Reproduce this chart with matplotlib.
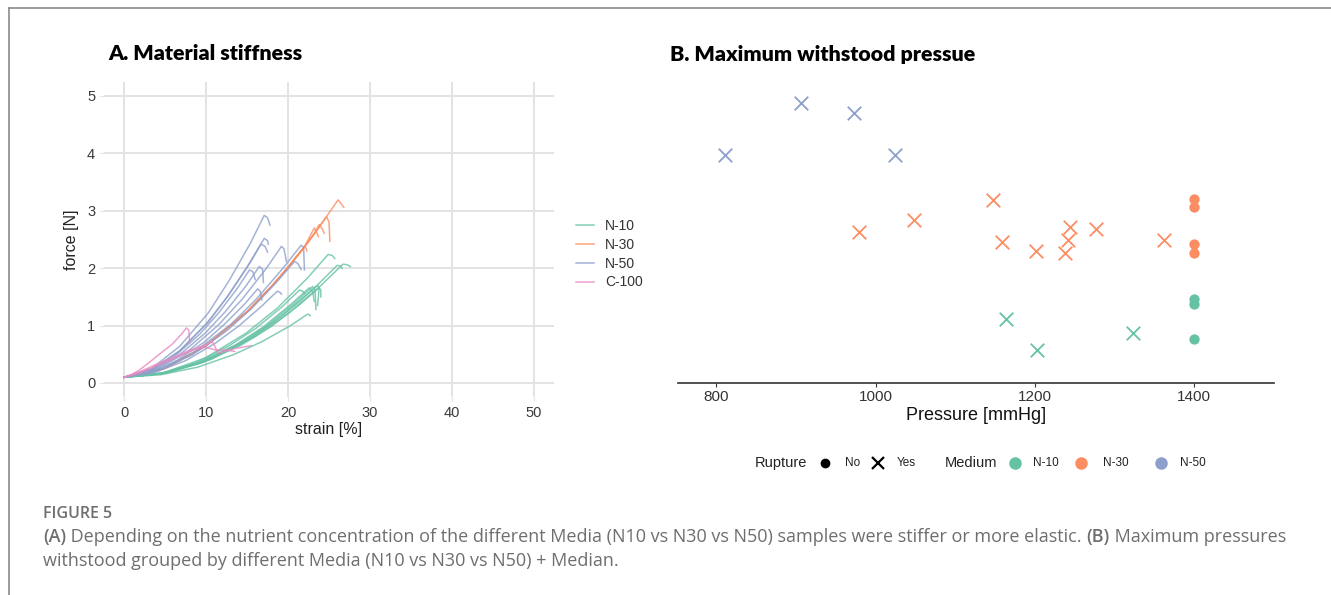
import matplotlib
matplotlib.use("Agg")
import matplotlib.pyplot as plt
from matplotlib.lines import Line2D

# ---- data ----
# panel A: strain [%] / force [N] per test sample
n10_strain = [
    [0, 5.0, 10.0, 14.9, 18.7, 22.4, 24.9, 25.4, 25.7],
    [0, 5.3, 10.7, 16.0, 20.0, 24.0, 26.7, 27.2, 27.6],
    [0, 5.2, 10.4, 15.6, 19.5, 23.4, 26.0, 26.4, 26.6],
    [0, 4.6, 9.2, 13.8, 17.3, 20.7, 23.0, 23.3, 23.4],
    [0, 4.8, 9.5, 14.3, 17.9, 21.4, 23.8, 24.0, 24.0],
    [0, 4.5, 9.0, 13.6, 17.0, 20.3, 22.6, 23.0, 23.2],
    [0, 4.5, 9.0, 13.4, 16.8, 20.2, 22.4, 22.6, 22.7],
    [0, 4.3, 8.6, 12.8, 16.1, 19.3, 21.4, 21.8, 22.0],
    [0, 4.7, 9.4, 14.2, 17.7, 21.2, 23.6, 23.8, 23.6],
]
n10_force = [
    [0.1, 0.186, 0.442, 0.870, 1.304, 1.833, 2.24, 2.22, 2.17],
    [0.1, 0.179, 0.415, 0.809, 1.208, 1.696, 2.07, 2.06, 2.03],
    [0.1, 0.178, 0.412, 0.802, 1.197, 1.680, 2.05, 2.04, 2.00],
    [0.1, 0.163, 0.353, 0.669, 0.989, 1.380, 1.68, 1.62, 1.28],
    [0.1, 0.162, 0.350, 0.662, 0.978, 1.364, 1.66, 1.62, 1.50],
    [0.1, 0.162, 0.350, 0.662, 0.978, 1.364, 1.66, 1.60, 1.42],
    [0.1, 0.144, 0.276, 0.496, 0.719, 0.991, 1.20, 1.19, 1.17],
    [0.1, 0.161, 0.343, 0.647, 0.955, 1.331, 1.62, 1.60, 1.56],
    [0.1, 0.164, 0.356, 0.676, 1.000, 1.396, 1.70, 1.66, 1.35],
]
n30_strain = [
    [0, 5, 10, 15, 18, 20, 22, 23.2, 23.8, 24.7, 26.1, 26.5, 26.8],
    [0, 5, 10, 15, 18, 20, 22, 23.2, 23.8, 24.7, 25.0, 25.1],
    [0, 5, 10, 15, 18, 20, 22, 23.2, 23.8, 24.2, 24.4],
    [0, 5, 10, 15, 18, 20, 22, 23.2, 23.5, 23.7],
    [0, 5, 10, 15, 18, 20, 22, 22.2, 22.3],
]
n30_force = [
    [0.1, 0.258, 0.649, 1.240, 1.683, 2.014, 2.372, 2.600, 2.717, 2.90, 3.19, 3.12, 3.06],
    [0.1, 0.258, 0.649, 1.240, 1.683, 2.014, 2.372, 2.600, 2.717, 2.90, 2.80, 2.47],
    [0.1, 0.258, 0.649, 1.240, 1.683, 2.014, 2.372, 2.600, 2.760, 2.68, 2.61],
    [0.1, 0.258, 0.649, 1.240, 1.683, 2.014, 2.372, 2.700, 2.62, 2.55],
    [0.1, 0.258, 0.649, 1.240, 1.683, 2.014, 2.372, 2.35, 2.30],
]
n50_strain = [
    [0, 3.4, 6.8, 10.3, 12.8, 15.4, 17.1, 17.5, 17.8],
    [0, 3.4, 6.8, 10.3, 12.8, 15.4, 17.1, 17.5, 17.6],
    [0, 3.3, 6.7, 10.0, 12.5, 15.0, 16.7, 17.2, 17.5],
    [0, 3.8, 7.7, 11.5, 14.4, 17.3, 19.2, 19.5, 19.8],
    [0, 4.3, 8.6, 13.0, 16.2, 19.4, 21.6, 21.9, 22.0],
    [0, 4.2, 8.3, 12.5, 15.6, 18.7, 20.8, 21.2, 21.6],
    [0, 3.3, 6.6, 9.9, 12.4, 14.9, 16.5, 16.9, 17.0],
    [0, 3.1, 6.1, 9.2, 11.5, 13.8, 15.3, 15.7, 16.0],
    [0, 3.3, 6.5, 9.8, 12.2, 14.7, 16.3, 16.6, 16.8],
    [0, 3.7, 7.5, 11.2, 14.0, 16.8, 18.7, 19.0, 19.2],
]
n50_force = [
    [0.1, 0.256, 0.641, 1.225, 1.781, 2.432, 2.92, 2.88, 2.75],
    [0.1, 0.234, 0.565, 1.066, 1.542, 2.101, 2.52, 2.48, 2.42],
    [0.1, 0.228, 0.545, 1.026, 1.483, 2.019, 2.42, 2.38, 2.28],
    [0.1, 0.226, 0.538, 1.010, 1.459, 1.986, 2.38, 2.34, 2.12],
    [0.1, 0.227, 0.542, 1.018, 1.471, 2.002, 2.40, 2.36, 1.97],
    [0.1, 0.212, 0.488, 0.906, 1.304, 1.771, 2.12, 2.08, 1.98],
    [0.1, 0.207, 0.471, 0.870, 1.250, 1.696, 2.03, 1.98, 1.75],
    [0.1, 0.203, 0.459, 0.846, 1.215, 1.646, 1.97, 1.94, 1.80],
    [0.1, 0.185, 0.396, 0.714, 1.018, 1.374, 1.64, 1.60, 1.45],
    [0.1, 0.183, 0.388, 0.699, 0.994, 1.341, 1.60, 1.58, 1.55],
]
c100_strain = [
    [0, 1, 2, 3, 4.3, 5.9, 7.0, 7.6, 7.9, 8.0],
    [0, 2, 4, 6, 8, 9.5, 10.8, 11.2, 11.5, 12.5, 13.5, 15.5],
    [0, 2, 4, 6, 8, 9.5, 10.0, 11.0, 12.5, 13.5],
]
c100_force = [
    [0.1, 0.15, 0.24, 0.35, 0.50, 0.68, 0.85, 0.96, 0.92, 0.70],
    [0.1, 0.20, 0.33, 0.45, 0.57, 0.64, 0.72, 0.60, 0.52, 0.56, 0.60, 0.65],
    [0.1, 0.18, 0.30, 0.42, 0.55, 0.62, 0.62, 0.58, 0.57, 0.55],
]

# panel B: maximum withstood pressure [mmHg], vertical position, rupture
n10_pressure = [1164, 1202, 1323, 1400, 1400, 1400]
n10_y = [1.14, 0.59, 0.90, 1.50, 1.40, 0.78]
n10_rupture = [True, True, True, False, False, False]
n30_pressure = [979, 1048, 1147, 1159, 1201, 1238, 1242, 1244, 1276, 1362,
                1400, 1400, 1400, 1400]
n30_y = [2.69, 2.91, 3.26, 2.52, 2.35, 2.32, 2.55, 2.78, 2.75, 2.55,
         3.28, 3.14, 2.48, 2.31]
n30_rupture = [True] * 10 + [False] * 4
n50_pressure = [811, 906, 973, 1024]
n50_y = [4.07, 4.99, 4.81, 4.07]
n50_rupture = [True, True, True, True]

media = ["N-10", "N-30", "N-50", "C-100"]
colors = {"N-10": "#66C2A5", "N-30": "#FC8D62", "N-50": "#8DA0CB", "C-100": "#E78AC3"}

plt.rcParams["font.family"] = ["Liberation Sans", "DejaVu Sans"]

fig = plt.figure(figsize=(13.31, 5.95), dpi=100)

# frame lines of the figure box
fig.add_artist(Line2D([9 / 1331, 9 / 1331], [0, 1 - 8 / 595], color="#8a8a8a", lw=1.2))
fig.add_artist(Line2D([9 / 1331, 1], [1 - 8 / 595, 1 - 8 / 595], color="#8a8a8a", lw=1.2))

# ---- A. Material stiffness ----
axA = fig.add_axes([0.0778, 0.3322, 0.3388, 0.5306])
curves = [("N-10", n10_strain, n10_force), ("N-30", n30_strain, n30_force),
          ("N-50", n50_strain, n50_force), ("C-100", c100_strain, c100_force)]
for name, xs, ys in curves:
    for i, (x, y) in enumerate(zip(xs, ys)):
        axA.plot(x, y, color=colors[name], lw=1.1, alpha=0.8,
                 label=name if i == 0 else None, solid_joinstyle="round")
axA.set_xlim(-2.5, 52.5)
axA.set_ylim(-0.25, 5.25)
axA.set_xticks([0, 10, 20, 30, 40, 50])
axA.set_yticks([0, 1, 2, 3, 4, 5])
axA.grid(True, color="#e3e3e3", lw=1.4)
axA.set_axisbelow(True)
for s in axA.spines.values():
    s.set_visible(False)
axA.tick_params(length=3, color="#e3e3e3", labelcolor="#3a3a3a", labelsize=10.5, pad=3)
axA.set_xlabel("strain [%]", fontsize=11.5, color="#222222", labelpad=2)
axA.set_ylabel("force [N]", fontsize=11.5, color="#222222", labelpad=6)
leg = axA.legend(loc="upper left", bbox_to_anchor=(1.02, 0.605), frameon=False,
                 fontsize=10, handlelength=1.3, handletextpad=0.8, labelspacing=0.35)
for t in leg.get_texts():
    t.set_color("#333333")

fig.text(108 / 1331, 1 - 53 / 595, "A. Material stiffness", fontsize=15.4,
         fontweight="heavy", family="Lato", va="center", ha="left")

# ---- B. Maximum withstood pressue ----
axB = fig.add_axes([0.5094, 0.3563, 0.4478, 0.5092])
groups = [("N-10", n10_pressure, n10_y, n10_rupture),
          ("N-30", n30_pressure, n30_y, n30_rupture),
          ("N-50", n50_pressure, n50_y, n50_rupture)]
for name, px, py, rup in groups:
    xr = [p for p, r in zip(px, rup) if r]
    yr = [v for v, r in zip(py, rup) if r]
    xn = [p for p, r in zip(px, rup) if not r]
    yn = [v for v, r in zip(py, rup) if not r]
    axB.scatter(xr, yr, marker="x", s=95, lw=1.3, color=colors[name])
    axB.scatter(xn, yn, marker="o", s=55, lw=0, color=colors[name])
axB.set_xlim(752, 1500)
axB.set_ylim(0, 5.4)
axB.set_xticks([800, 1000, 1200, 1400])
axB.set_yticks([])
for k in ["top", "right", "left"]:
    axB.spines[k].set_visible(False)
axB.spines["bottom"].set_color("#333333")
axB.spines["bottom"].set_linewidth(1.2)
axB.tick_params(axis="x", length=3, color="#333333", labelcolor="#333333", labelsize=11, pad=2)
axB.set_xlabel("Pressure [mmHg]", fontsize=13, color="#111111", labelpad=2)

fig.text(670 / 1331, 1 - 55 / 595, "B. Maximum withstood pressue", fontsize=15.4,
         fontweight="heavy", family="Lato", va="center", ha="left")

# legend for panel B, laid out in one row under the axis
ly = 1 - 463 / 595
fig.text(755 / 1331, ly, "Rupture", fontsize=10.5, color="#222222", va="center")
fig.add_artist(Line2D([825 / 1331], [ly], marker="o", ms=6, color="black", ls="none"))
fig.text(845 / 1331, ly, "No", fontsize=8.5, color="#222222", va="center")
fig.add_artist(Line2D([878 / 1331], [ly], marker="x", ms=9, mew=1.6, color="black", ls="none"))
fig.text(897 / 1331, ly, "Yes", fontsize=8.5, color="#222222", va="center")
fig.text(945 / 1331, ly, "Medium", fontsize=10.5, color="#222222", va="center")
for name, xk, xt in [("N-10", 1015, 1033), ("N-30", 1081, 1103), ("N-50", 1161, 1180)]:
    fig.add_artist(Line2D([xk / 1331], [ly], marker="o", ms=8, color=colors[name], ls="none"))
    fig.text(xt / 1331, ly, name, fontsize=8.5, color="#222222", va="center")

# ---- caption ----
cap = "#6e6e6e"
fig.text(43 / 1331, 1 - 514 / 595, "FIGURE 5", fontsize=11.5, color=cap,
         family="Open Sans", fontweight="semibold", va="center")


def runs(x, y, parts):
    r = fig.canvas.get_renderer()
    for txt, w in parts:
        t = fig.text(x, y, txt, fontsize=13.0, color=cap, family="Open Sans",
                     fontweight=w, va="center")
        bb = t.get_window_extent(renderer=r)
        x += bb.width / fig.bbox.width


runs(43 / 1331, 1 - 537 / 595, [
    ("(A)", "semibold"),
    (" Depending on the nutrient concentration of the different Media (N10 vs N30 vs N50) samples were stiffer or more elastic. ", "normal"),
    ("(B)", "semibold"),
    (" Maximum pressures", "normal"),
])
runs(43 / 1331, 1 - 561 / 595, [
    ("withstood grouped by different Media (N10 vs N30 vs N50) + Median.", "normal"),
])

fig.savefig("out.png", dpi=100)
